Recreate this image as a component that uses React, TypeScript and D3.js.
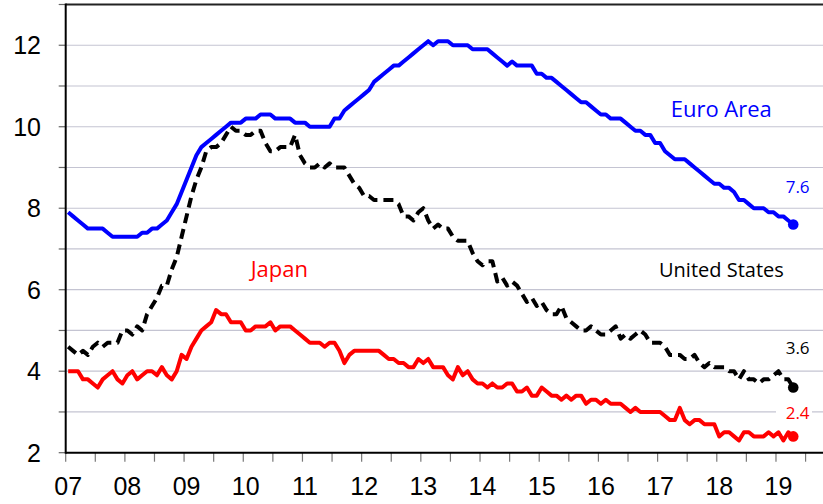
import React from "react";
import * as d3 from "d3";

// Monthly unemployment rates, Jan 2007 – Apr 2019
const euroArea = [
  7.9, 7.8, 7.7, 7.6, 7.5, 7.5, 7.5, 7.5, 7.4, 7.3, 7.3, 7.3,
  7.3, 7.3, 7.3, 7.4, 7.4, 7.5, 7.5, 7.6, 7.7, 7.9, 8.1, 8.4,
  8.7, 9.0, 9.3, 9.5, 9.6, 9.7, 9.8, 9.9, 10.0, 10.1, 10.1, 10.1,
  10.2, 10.2, 10.2, 10.3, 10.3, 10.3, 10.2, 10.2, 10.2, 10.2, 10.1, 10.1,
  10.1, 10.0, 10.0, 10.0, 10.0, 10.0, 10.2, 10.2, 10.4, 10.5, 10.6, 10.7,
  10.8, 10.9, 11.1, 11.2, 11.3, 11.4, 11.5, 11.5, 11.6, 11.7, 11.8, 11.9,
  12.0, 12.1, 12.0, 12.1, 12.1, 12.1, 12.0, 12.0, 12.0, 12.0, 11.9, 11.9,
  11.9, 11.9, 11.8, 11.7, 11.6, 11.5, 11.6, 11.5, 11.5, 11.5, 11.5, 11.3,
  11.3, 11.2, 11.2, 11.1, 11.0, 10.9, 10.8, 10.7, 10.6, 10.6, 10.5, 10.4,
  10.3, 10.3, 10.2, 10.2, 10.2, 10.1, 10.0, 9.9, 9.9, 9.8, 9.8, 9.6,
  9.6, 9.4, 9.3, 9.2, 9.2, 9.2, 9.1, 9.0, 8.9, 8.8, 8.7, 8.6,
  8.6, 8.5, 8.5, 8.4, 8.2, 8.2, 8.1, 8.0, 8.0, 8.0, 7.9, 7.9,
  7.8, 7.8, 7.7, 7.6,
];

const unitedStates = [
  4.6, 4.5, 4.4, 4.5, 4.4, 4.6, 4.7, 4.6, 4.7, 4.7, 4.7, 5.0,
  5.0, 4.9, 5.1, 5.0, 5.4, 5.6, 5.8, 6.1, 6.1, 6.5, 6.8, 7.3,
  7.8, 8.3, 8.7, 9.0, 9.4, 9.5, 9.5, 9.6, 9.8, 10.0, 9.9, 9.9,
  9.8, 9.8, 9.9, 9.9, 9.6, 9.4, 9.4, 9.5, 9.5, 9.5, 9.8, 9.3,
  9.1, 9.0, 9.0, 9.1, 9.0, 9.1, 9.0, 9.0, 9.0, 8.8, 8.6, 8.5,
  8.3, 8.3, 8.2, 8.2, 8.2, 8.2, 8.2, 8.1, 7.8, 7.8, 7.7, 7.9,
  8.0, 7.7, 7.5, 7.6, 7.5, 7.5, 7.3, 7.2, 7.2, 7.2, 6.9, 6.7,
  6.6, 6.7, 6.7, 6.2, 6.3, 6.1, 6.2, 6.1, 5.9, 5.7, 5.8, 5.6,
  5.7, 5.5, 5.4, 5.4, 5.6, 5.3, 5.2, 5.1, 5.0, 5.0, 5.1, 5.0,
  4.9, 4.9, 5.0, 5.1, 4.8, 4.9, 4.8, 4.9, 5.0, 4.9, 4.7, 4.7,
  4.7, 4.6, 4.4, 4.4, 4.4, 4.3, 4.3, 4.4, 4.2, 4.1, 4.2, 4.1,
  4.1, 4.1, 4.0, 4.0, 3.8, 4.0, 3.8, 3.8, 3.7, 3.8, 3.8, 3.9,
  4.0, 3.8, 3.8, 3.6,
];

const japan = [
  4.0, 4.0, 4.0, 3.8, 3.8, 3.7, 3.6, 3.8, 3.9, 4.0, 3.8, 3.7,
  3.9, 4.0, 3.8, 3.9, 4.0, 4.0, 3.9, 4.1, 3.9, 3.8, 4.0, 4.4,
  4.3, 4.6, 4.8, 5.0, 5.1, 5.2, 5.5, 5.4, 5.4, 5.2, 5.2, 5.2,
  5.0, 5.0, 5.1, 5.1, 5.1, 5.2, 5.0, 5.1, 5.1, 5.1, 5.0, 4.9,
  4.8, 4.7, 4.7, 4.7, 4.6, 4.7, 4.7, 4.5, 4.2, 4.4, 4.5, 4.5,
  4.5, 4.5, 4.5, 4.5, 4.4, 4.3, 4.3, 4.2, 4.2, 4.1, 4.1, 4.3,
  4.2, 4.3, 4.1, 4.1, 4.1, 3.9, 3.8, 4.1, 3.9, 4.0, 3.8, 3.7,
  3.7, 3.6, 3.7, 3.6, 3.6, 3.7, 3.7, 3.5, 3.5, 3.6, 3.4, 3.4,
  3.6, 3.5, 3.4, 3.4, 3.3, 3.4, 3.3, 3.4, 3.4, 3.2, 3.3, 3.3,
  3.2, 3.3, 3.2, 3.2, 3.2, 3.1, 3.0, 3.1, 3.0, 3.0, 3.0, 3.0,
  3.0, 2.9, 2.8, 2.8, 3.1, 2.8, 2.7, 2.8, 2.8, 2.7, 2.7, 2.7,
  2.4, 2.5, 2.5, 2.4, 2.3, 2.5, 2.5, 2.4, 2.4, 2.4, 2.5, 2.4,
  2.5, 2.3, 2.5, 2.4,
];

const yearLabels = ["07", "08", "09", "10", "11", "12", "13", "14", "15", "16", "17", "18", "19"];
const yTickLabels = [2, 4, 6, 8, 10, 12];

const W = 823;
const H = 504;
const X0 = 65.7;
const MONTH_W = 59.19 / 12;
const MONTHS_SPAN = 154;

export default function App() {
  const x = d3.scaleLinear().domain([0, MONTHS_SPAN]).range([X0, X0 + MONTHS_SPAN * MONTH_W]);
  const y = d3.scaleLinear().domain([2, 13]).range([452.7, 4.5]);

  const line = d3
    .line<number>()
    .x((_, i) => x(i + 0.5))
    .y((d) => y(d));

  const gridVals = d3.range(3, 13);
  const yTickVals = d3.range(2, 14);
  const xTickVals = d3.range(0, MONTHS_SPAN, 6);
  const last = (a: number[]) => a.length - 1;

  const labelFont = "'Open Sans', 'Noto Sans', sans-serif";
  const axisFont = "'Liberation Sans', Arial, sans-serif";

  return (
    <div style={{ position: "fixed", left: 0, top: 0 }}>
      <svg width={W} height={H} viewBox={`0 0 ${W} ${H}`} style={{ display: "block", background: "#fff" }}>
        {/* gridlines */}
        {gridVals.map((v) => (
          <line key={"g" + v} x1={X0} x2={W} y1={y(v)} y2={y(v)} stroke="#c4c4d2" strokeWidth={1.2} />
        ))}
        {/* top border */}
        <line x1={X0} x2={W} y1={y(13)} y2={y(13)} stroke="#222" strokeWidth={2} />

        {/* y ticks */}
        {yTickVals.map((v) => (
          <line key={"yt" + v} x1={X0 - 7} x2={X0} y1={y(v)} y2={y(v)} stroke="#666" strokeWidth={1.2} />
        ))}
        {/* x ticks */}
        {xTickVals.map((m) => (
          <line key={"xt" + m} x1={x(m)} x2={x(m)} y1={y(2)} y2={y(2) + 9} stroke="#777" strokeWidth={1.2} />
        ))}

        {/* axes */}
        <line x1={X0} x2={X0} y1={y(13) - 1} y2={y(2) + 1} stroke="#000" strokeWidth={2} />
        <line x1={X0} x2={W} y1={y(2)} y2={y(2)} stroke="#000" strokeWidth={2} />

        {/* y labels */}
        {yTickLabels.map((v) => (
          <text key={"yl" + v} x={41} y={y(v) + 9} textAnchor="end" fontFamily={axisFont} fontSize={25} fill="#000">
            {v}
          </text>
        ))}
        {/* x labels */}
        {yearLabels.map((lab, i) => (
          <text key={"xl" + lab} x={x(i * 12) + 2.5} y={495} textAnchor="middle" fontFamily={axisFont} fontSize={25} fill="#000">
            {lab}
          </text>
        ))}

        {/* series */}
        <path d={line(euroArea) || ""} fill="none" stroke="#0000ff" strokeWidth={4} strokeLinejoin="round" />
        <path d={line(unitedStates) || ""} fill="none" stroke="#000" strokeWidth={4} strokeDasharray="10,6" strokeLinejoin="round" />
        <path d={line(japan) || ""} fill="none" stroke="#ff0000" strokeWidth={4} strokeLinejoin="round" />

        {/* end dots */}
        <circle cx={x(last(euroArea) + 0.5)} cy={y(euroArea[last(euroArea)])} r={5.3} fill="#0000ff" />
        <circle cx={x(last(unitedStates) + 0.5)} cy={y(unitedStates[last(unitedStates)])} r={5.3} fill="#000" />
        <circle cx={x(last(japan) + 0.5)} cy={y(japan[last(japan)])} r={5.3} fill="#ff0000" />

        {/* series labels */}
        <text x={670.7} y={117.3} fontFamily={labelFont} fontSize={22} fill="#0000ff">Euro Area</text>
        <text x={250.7} y={277.3} fontFamily={labelFont} fontSize={22} fill="#ff0000">Japan</text>
        <text x={659} y={276.7} fontFamily={labelFont} fontSize={20} fill="#000">United States</text>

        {/* end value labels */}
        <text x={785.7} y={192.7} fontFamily={labelFont} fontSize={17} fill="#0000ff">
          {euroArea[last(euroArea)].toFixed(1)}
        </text>
        <text x={785.7} y={354.3} fontFamily={labelFont} fontSize={17} fill="#000">
          {unitedStates[last(unitedStates)].toFixed(1)}
        </text>
        <rect x={776} y={404} width={36} height={19} fill="#fff" />
        <text x={785.7} y={419.3} fontFamily={labelFont} fontSize={17} fill="#ff0000">
          {japan[last(japan)].toFixed(1)}
        </text>
      </svg>
    </div>
  );
}
